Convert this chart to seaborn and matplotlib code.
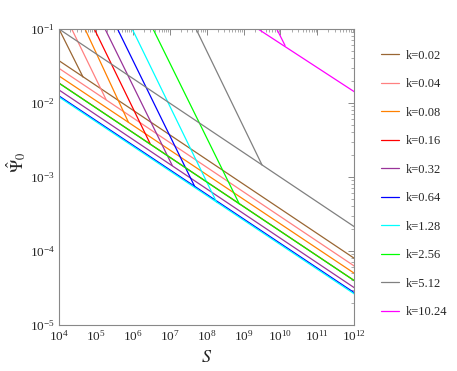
import pandas as pd
import seaborn as sns
from matplotlib import pyplot as plt
from matplotlib.ticker import LogLocator, FixedLocator, NullFormatter

# k values and colours
k_labels = ['k=0.02', 'k=0.04', 'k=0.08', 'k=0.16', 'k=0.32',
            'k=0.64', 'k=1.28', 'k=2.56', 'k=5.12', 'k=10.24']
colores = ['#996633', '#ff8080', '#ff8000', '#ff0000', '#993399',
           '#0000ff', '#00ffff', '#00ff00', '#808080', '#ff00ff']

# shallow branch: start point and end point
raso_S0 = [1e4, 1e4, 1e4, 1e4, 1e4, 1e4, 1e4, 1e4, 1e4, 2.47e9]
raso_y0 = [0.0373, 0.0294, 0.0232, 0.0186, 0.0150, 0.01245, 0.01205, 0.0185, 0.1, 0.1]
raso_S1 = [1e12] * 10
raso_y1 = [7.96e-5, 6.26e-5, 5.0e-5, 3.98e-5, 3.19e-5, 2.73e-5, 2.63e-5, 3.97e-5, 2.13e-4, 1.42e-2]

# steep branch: enters at the top (y=0.1) and ends at the junction
ingreme_S0 = [1e4, 2.21e4, 5.07e4, 9.06e4, 1.77e5, 3.85e5, 9.64e5, 3.53e6, 5.16e7, 7.94e9]
ingreme_y0 = [0.1] * 10
juncao_S = [4.47e4, 1.88e5, 7.55e5, 2.93e6, 1.17e7, 4.85e7, 1.88e8, 7.69e8, 3.17e9, 1.33e10]
juncao_y = [0.02245, 0.01115, 5.53e-3, 2.84e-3, 1.43e-3, 7.28e-4, 4.52e-4, 4.31e-4, 1.45e-3, 0.0598]

x_ticks = [1e4, 1e5, 1e6, 1e7, 1e8, 1e9, 1e10, 1e11, 1e12]
y_ticks = [1e-5, 1e-4, 1e-3, 1e-2, 1e-1]


def gerar_grafico(nome_imagem='out.png'):
    linhas = []
    for i, k in enumerate(k_labels):
        linhas.append({'k': k, 'seg': 'a', 'S': raso_S0[i], 'psi': raso_y0[i]})
        linhas.append({'k': k, 'seg': 'a', 'S': raso_S1[i], 'psi': raso_y1[i]})
        linhas.append({'k': k, 'seg': 'b', 'S': ingreme_S0[i], 'psi': ingreme_y0[i]})
        linhas.append({'k': k, 'seg': 'b', 'S': juncao_S[i], 'psi': juncao_y[i]})
    df = pd.DataFrame(linhas)

    sns.set_style('white')
    plt.rcParams['font.family'] = ['Liberation Serif', 'DejaVu Serif']
    plt.rcParams['mathtext.fontset'] = 'stix'

    fig = plt.figure(figsize=(4.57, 3.71), dpi=100)
    ax = fig.add_axes([59 / 457, 1 - 325 / 371, (354.3 - 59) / 457, (325 - 29) / 371])
    ax.set_xscale('log')
    ax.set_yscale('log')

    sns.lineplot(data=df, x='S', y='psi', hue='k', units='seg', estimator=None,
                 sort=False, hue_order=k_labels, palette=colores, lw=0.9, ax=ax)

    ax.set_xlim(1e4, 1e12)
    ax.set_ylim(1e-5, 1e-1)
    ax.xaxis.set_major_locator(FixedLocator(x_ticks))
    ax.yaxis.set_major_locator(FixedLocator(y_ticks))
    ax.xaxis.set_minor_locator(LogLocator(base=10, subs=range(2, 10), numticks=100))
    ax.yaxis.set_minor_locator(LogLocator(base=10, subs=range(2, 10), numticks=100))
    ax.xaxis.set_minor_formatter(NullFormatter())
    ax.yaxis.set_minor_formatter(NullFormatter())

    for lado in ax.spines.values():
        lado.set_color('#888888')
        lado.set_linewidth(0.8)
    ax.tick_params(which='both', direction='in', top=True, right=True,
                   color='#888888', labelsize=9.5, pad=3)
    ax.tick_params(which='major', length=4, width=0.7)
    ax.tick_params(which='minor', length=2, width=0.5)

    ax.set_xlabel(r'$S$', fontsize=13, labelpad=4)
    ax.set_ylabel(r'$\hat{\Psi}_0$', fontsize=13)
    ax.yaxis.set_label_coords(-0.105, 0.55)

    handles, labels = ax.get_legend_handles_labels()
    ax.get_legend().remove()
    fig.legend(handles, labels, loc='center left', bbox_to_anchor=(381 / 457, 1 - 184 / 371),
               frameon=False, fontsize=9, handlelength=1.4, handletextpad=0.6,
               labelspacing=1.32, borderpad=0, borderaxespad=0)

    plt.savefig(nome_imagem, dpi=100)
    print(f"Gráfico salvo como: {nome_imagem}")


if __name__ == '__main__':
    gerar_grafico()
